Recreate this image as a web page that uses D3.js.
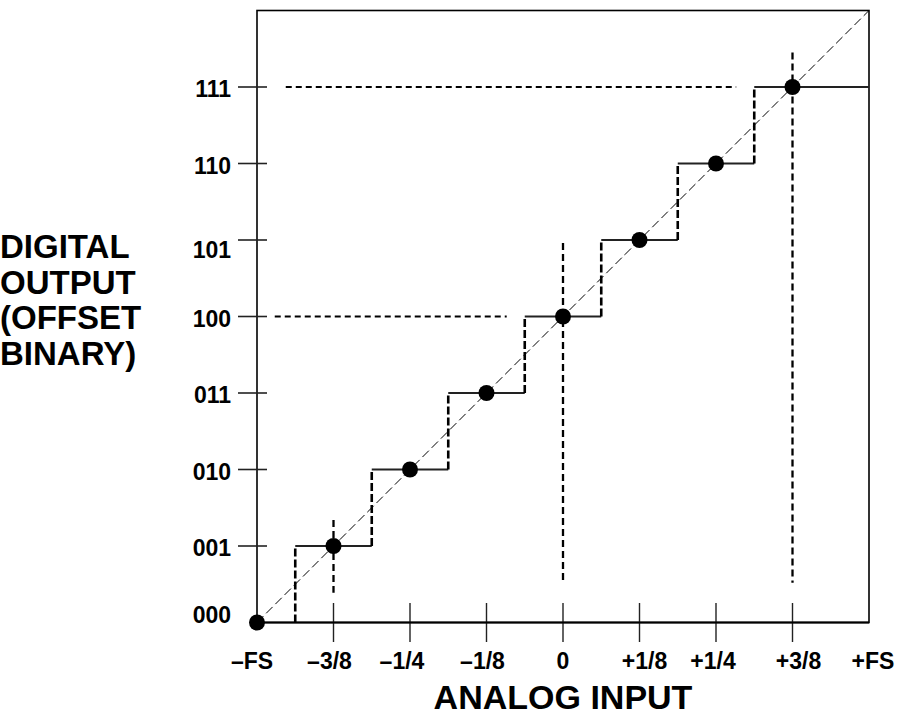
<!DOCTYPE html>
<html>
<head>
<meta charset="utf-8">
<script src="https://cdn.jsdelivr.net/npm/d3@7"></script>
<style>
  html, body { margin: 0; padding: 0; background: #fff; }
  svg { display: block; }
  text { font-family: "Liberation Sans", Arial, Helvetica, sans-serif; font-weight: bold; fill: #000; }
</style>
</head>
<body>
<svg id="chart" width="900" height="719"></svg>
<script>
// ---------------- DATA ----------------
const codeLabels = ["000", "001", "010", "011", "100", "101", "110", "111"];
const codeValues = [0, 1, 2, 3, 4, 5, 6, 7];
const xTickLabels = ["\u2013FS", "\u20133/8", "\u20131/4", "\u20131/8", "0", "+1/8", "+1/4", "+3/8", "+FS"];
const xTickValues = [-0.5, -0.375, -0.25, -0.125, 0, 0.125, 0.25, 0.375, 0.5];
// ideal (code-centre) analog inputs for each output code
const pointInputs = [-0.5, -0.375, -0.25, -0.125, 0, 0.125, 0.25, 0.375];
const pointCodes = [0, 1, 2, 3, 4, 5, 6, 7];
// code transitions: analog input at which code k-1 -> k
const transitionInputs = [-0.4375, -0.3125, -0.1875, -0.0625, 0.0625, 0.1875, 0.3125];
const transitionCodes = [1, 2, 3, 4, 5, 6, 7];
const lastStepEnd = 0.5;
// ideal transfer line end points
const idealInputs = [-0.5, 0.5];
const idealCodes = [0, 8];
// dashed reference lines
const refHCodes = [7, 4];
const refHFrom = [-0.453, -0.471];
const refHTo = [0.283, -0.092];
const refVInputs = [0, 0.375, -0.375];
const refVFrom = [0.52, 0.52, 0.39];
const refVTo = [4.96, 7.45, 1.34];
const yTitle = ["DIGITAL", "OUTPUT", "(OFFSET", "BINARY)"];
const xTitle = "ANALOG INPUT";

// ---------------- LAYOUT ----------------
const svg = d3.select("#chart");
const x = d3.scaleLinear().domain([-0.5, 0.5]).range([257, 869]);
const y = d3.scaleLinear().domain([0, 8]).range([622.5, 10.5]);

// frame
svg.append("rect")
  .attr("x", x(-0.5)).attr("y", y(8))
  .attr("width", x(0.5) - x(-0.5)).attr("height", y(0) - y(8))
  .attr("fill", "none").attr("stroke", "#000").attr("stroke-width", 1.6);

// y ticks (codes 1..7)
svg.append("g").selectAll("line")
  .data(codeValues.filter(c => c > 0))
  .join("line")
  .attr("x1", x(-0.5) - 19).attr("x2", x(-0.5) + 10)
  .attr("y1", d => y(d)).attr("y2", d => y(d))
  .attr("stroke", "#222").attr("stroke-width", 1.6);

// x ticks (interior)
svg.append("g").selectAll("line")
  .data(xTickValues.slice(1, -1))
  .join("line")
  .attr("x1", d => x(d)).attr("x2", d => x(d))
  .attr("y1", y(0) - 19.5).attr("y2", y(0) + 19.5)
  .attr("stroke", "#222").attr("stroke-width", 1.4);

// y tick labels
const yNudge = {0: -10, 5: 8};
svg.append("g").selectAll("text")
  .data(codeValues)
  .join("text")
  .attr("x", 231)
  .attr("y", d => y(d) + 10 + (yNudge[d] || 0))
  .attr("text-anchor", "end")
  .attr("font-size", 23)
  .text(d => codeLabels[d]);

// x tick labels (small hand-placement offsets as in the original drawing)
const xNudge = [-5, -4, -8, -4, 0, 5, -3, 6, 4];
svg.append("g").selectAll("text")
  .data(xTickValues)
  .join("text")
  .attr("x", (d, i) => x(d) + xNudge[i])
  .attr("y", 669)
  .attr("text-anchor", "middle")
  .attr("font-size", 23)
  .text((d, i) => xTickLabels[i]);

// axis titles
svg.append("text")
  .attr("x", x(0)).attr("y", 709)
  .attr("text-anchor", "middle").attr("font-size", 34)
  .text(xTitle);

svg.append("g").selectAll("text")
  .data(yTitle)
  .join("text")
  .attr("x", 0)
  .attr("y", (d, i) => 258 + i * 35.5)
  .attr("font-size", 33)
  .text(d => d);

// ideal transfer line (thin dashed diagonal)
svg.append("line")
  .attr("x1", x(idealInputs[0])).attr("y1", y(idealCodes[0]))
  .attr("x2", x(idealInputs[1])).attr("y2", y(idealCodes[1]))
  .attr("stroke", "#000").attr("stroke-width", 1)
  .attr("stroke-dasharray", "9,4");

// reference dashed lines
svg.append("g").selectAll("line")
  .data(refHCodes.map((c, i) => ({c, a: refHFrom[i], b: refHTo[i]})))
  .join("line")
  .attr("x1", d => x(d.a)).attr("x2", d => x(d.b))
  .attr("y1", d => y(d.c)).attr("y2", d => y(d.c))
  .attr("stroke", "#000").attr("stroke-width", 2)
  .attr("stroke-dasharray", "6,4");

svg.append("g").selectAll("line")
  .data(refVInputs.map((v, i) => ({v, a: refVFrom[i], b: refVTo[i]})))
  .join("line")
  .attr("x1", d => x(d.v)).attr("x2", d => x(d.v))
  .attr("y1", d => y(d.b)).attr("y2", d => y(d.a))
  .attr("stroke", "#000").attr("stroke-width", 2.3)
  .attr("stroke-dasharray", "7,4");

// staircase: solid treads
const treads = transitionCodes.map((c, i) => ({
  c,
  a: transitionInputs[i],
  b: i < transitionInputs.length - 1 ? transitionInputs[i + 1] : lastStepEnd
}));
svg.append("g").selectAll("line")
  .data(treads)
  .join("line")
  .attr("x1", d => x(d.a)).attr("x2", d => x(d.b))
  .attr("y1", d => y(d.c)).attr("y2", d => y(d.c))
  .attr("stroke", "#222").attr("stroke-width", 2);

// staircase: dashed risers
svg.append("g").selectAll("line")
  .data(transitionCodes.map((c, i) => ({c, v: transitionInputs[i]})))
  .join("line")
  .attr("x1", d => x(d.v)).attr("x2", d => x(d.v))
  .attr("y1", d => y(d.c - 1)).attr("y2", d => y(d.c))
  .attr("stroke", "#000").attr("stroke-width", 2.6)
  .attr("stroke-dasharray", "8,3");

// bottom axis line on top
svg.append("line")
  .attr("x1", x(-0.5)).attr("x2", x(0.5))
  .attr("y1", y(0)).attr("y2", y(0))
  .attr("stroke", "#000").attr("stroke-width", 2);

// dots
svg.append("g").selectAll("circle")
  .data(pointInputs.map((v, i) => ({v, c: pointCodes[i]})))
  .join("circle")
  .attr("cx", d => x(d.v)).attr("cy", d => y(d.c))
  .attr("r", 8)
  .attr("fill", "#000");
</script>
</body>
</html>
